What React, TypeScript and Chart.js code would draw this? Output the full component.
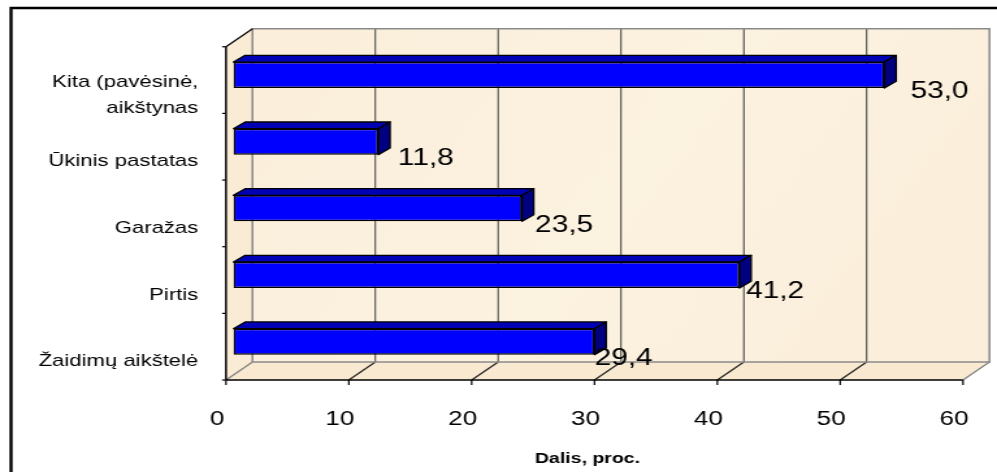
import React, { useEffect, useRef } from "react";
import { Chart, registerables } from "chart.js";

Chart.register(...registerables);

// ---- data ----
const categories: (string | string[])[] = [
  ["Kita (pavėsinė,", "aikštynas"],
  "Ūkinis pastatas",
  "Garažas",
  "Pirtis",
  "Žaidimų aikštelė",
];
const values = [53.0, 11.8, 23.5, 41.2, 29.4];
const valueLabels = ["53,0", "11,8", "23,5", "41,2", "29,4"];
const xTicks = [0, 10, 20, 30, 40, 50, 60];
const axisTitle = "Dalis, proc.";

// ---- layout / style ----
const VIEW_W = 997;
const VIEW_H = 472;
const STRETCH = 1.3;
const CW = Math.round(VIEW_W / STRETCH);
const SX = VIEW_W / CW;
const FONT = "'Liberation Sans', Arial, sans-serif";

const DX = 26.5 / SX; // full depth, horizontal
const DY = 18; // full depth, vertical
const D_BAR = 0.28; // bar plane depth fraction
const BAR_DX = 11.7 / SX;
const BAR_DY = 6.7;

const PLOT_LEFT = 233.4 / SX;
const PLOT_RIGHT = 970.4 / SX;
const PLOT_TOP = 41.7;
const PLOT_BOTTOM = 375;

const threeD = {
  id: "threeD",
  beforeDatasetsDraw(chart: any) {
    const { ctx, chartArea: ca, scales } = chart;
    const x = scales.x;
    const fx = (v: number) => x.getPixelForValue(v) - D_BAR * DX;
    const fTop = ca.top + D_BAR * DY;
    const fBot = ca.bottom + D_BAR * DY;
    const x0 = fx(xTicks[0]);
    const x1 = fx(xTicks[xTicks.length - 1]);
    const bx0 = x0 + DX;
    const bx1 = x1 + DX;
    const bTop = fTop - DY;
    const bBot = fBot - DY;

    ctx.save();
    // back wall
    const g = ctx.createLinearGradient(bx0, bTop, bx1, bBot);
    g.addColorStop(0, "#FBEFDB");
    g.addColorStop(0.5, "#FCF2E0");
    g.addColorStop(1, "#FBEEDA");
    ctx.fillStyle = g;
    ctx.fillRect(bx0, bTop, bx1 - bx0, bBot - bTop);
    // left wall
    ctx.fillStyle = "#FAEBD4";
    ctx.beginPath();
    ctx.moveTo(x0, fTop);
    ctx.lineTo(bx0, bTop);
    ctx.lineTo(bx0, bBot);
    ctx.lineTo(x0, fBot);
    ctx.closePath();
    ctx.fill();
    // floor
    ctx.fillStyle = "#F9E9D0";
    ctx.beginPath();
    ctx.moveTo(x0, fBot);
    ctx.lineTo(bx0, bBot);
    ctx.lineTo(bx1, bBot);
    ctx.lineTo(x1, fBot);
    ctx.closePath();
    ctx.fill();

    // back wall grid lines
    ctx.lineWidth = 1;
    ctx.strokeStyle = "#3a3a3a";
    for (let i = 1; i < xTicks.length - 1; i++) {
      const gx = fx(xTicks[i]) + DX;
      ctx.beginPath();
      ctx.moveTo(gx, bTop);
      ctx.lineTo(gx, bBot);
      ctx.stroke();
    }
    // floor diagonals
    for (let i = 0; i < xTicks.length; i++) {
      const px = fx(xTicks[i]);
      ctx.strokeStyle = i === 0 || i === xTicks.length - 1 ? "#808080" : "#222";
      ctx.lineWidth = 1.2;
      ctx.beginPath();
      ctx.moveTo(px, fBot);
      ctx.lineTo(px + DX, bBot);
      ctx.stroke();
    }
    // back wall edges (gray)
    ctx.strokeStyle = "#8a8a8a";
    ctx.lineWidth = 1.5;
    ctx.beginPath();
    ctx.moveTo(bx0, bBot);
    ctx.lineTo(bx0, bTop);
    ctx.lineTo(bx1, bTop);
    ctx.lineTo(bx1, bBot);
    ctx.lineTo(bx0, bBot);
    ctx.stroke();

    // front axis (bottom) + ticks
    ctx.strokeStyle = "#000";
    ctx.lineWidth = 1.5;
    ctx.beginPath();
    ctx.moveTo(x0, fBot);
    ctx.lineTo(x1, fBot);
    ctx.stroke();
    ctx.lineWidth = 1.2;
    for (let i = 0; i < xTicks.length; i++) {
      const px = fx(xTicks[i]);
      ctx.beginPath();
      ctx.moveTo(px, fBot);
      ctx.lineTo(px, fBot + 5);
      ctx.stroke();
    }
    // left axis + ticks + top diagonal
    ctx.lineWidth = 1.5;
    ctx.beginPath();
    ctx.moveTo(x0, fTop);
    ctx.lineTo(x0, fBot);
    ctx.stroke();
    ctx.lineWidth = 1.2;
    ctx.beginPath();
    ctx.moveTo(x0, fTop);
    ctx.lineTo(bx0, bTop);
    ctx.stroke();
    const n = categories.length;
    const step = (fBot - fTop) / n;
    for (let i = 0; i <= n; i++) {
      const py = fTop + i * step;
      ctx.beginPath();
      ctx.moveTo(x0 - 3, py);
      ctx.lineTo(x0, py);
      ctx.stroke();
    }
    ctx.restore();
  },
  afterDatasetsDraw(chart: any) {
    const { ctx } = chart;
    const meta = chart.getDatasetMeta(0);
    ctx.save();
    meta.data.forEach((bar: any, i: number) => {
      const p = bar.getProps(["x", "y", "base", "height"], true);
      const xe = p.x;
      const xb = p.base;
      const top = p.y - p.height / 2;
      const bot = p.y + p.height / 2;
      ctx.lineWidth = 1.3;
      ctx.strokeStyle = "#000";
      ctx.lineJoin = "round";
      // top face
      ctx.fillStyle = "#0000B4";
      ctx.beginPath();
      ctx.moveTo(xb, top);
      ctx.lineTo(xe, top);
      ctx.lineTo(xe + BAR_DX, top - BAR_DY);
      ctx.lineTo(xb + BAR_DX, top - BAR_DY);
      ctx.closePath();
      ctx.fill();
      ctx.stroke();
      // side face
      ctx.fillStyle = "#000080";
      ctx.beginPath();
      ctx.moveTo(xe, top);
      ctx.lineTo(xe + BAR_DX, top - BAR_DY);
      ctx.lineTo(xe + BAR_DX, bot - BAR_DY);
      ctx.lineTo(xe, bot);
      ctx.closePath();
      ctx.fill();
      ctx.stroke();
      // value label
      ctx.fillStyle = "#000";
      ctx.font = `23px ${FONT}`;
      ctx.textAlign = "left";
      ctx.textBaseline = "middle";
      ctx.fillText(valueLabels[i], xe + (26 - 6.5 * i) / SX, bot + 4);
    });
    ctx.restore();
  },
  afterDraw(chart: any) {
    const { ctx, scales } = chart;
    const x = scales.x;
    ctx.save();
    // axis title, centred under the front axis
    const mid =
      (x.getPixelForValue(xTicks[0]) + x.getPixelForValue(xTicks[xTicks.length - 1])) / 2 -
      D_BAR * DX -
      7 / SX;
    ctx.fillStyle = "#000";
    ctx.font = `bold 15px ${FONT}`;
    ctx.textAlign = "center";
    ctx.textBaseline = "middle";
    ctx.fillText(axisTitle, mid, 459);
    // outer frame
    ctx.strokeStyle = "#000";
    ctx.lineWidth = 2.4;
    ctx.beginPath();
    ctx.moveTo(11 / SX, VIEW_H + 10);
    ctx.lineTo(11 / SX, 8);
    ctx.lineTo(CW + 10, 8);
    ctx.stroke();
    ctx.restore();
  },
};

export default function App() {
  const ref = useRef<HTMLCanvasElement | null>(null);

  useEffect(() => {
    if (!ref.current) return;
    const chart = new Chart(ref.current, {
      type: "bar",
      data: {
        labels: categories as any,
        datasets: [
          {
            data: values,
            backgroundColor: "#0000FF",
            borderColor: "#000",
            borderWidth: 1.5,
            borderSkipped: false,
            barPercentage: 0.39,
            categoryPercentage: 1,
          },
        ],
      },
      options: {
        indexAxis: "y",
        animation: false,
        responsive: false,
        devicePixelRatio: 1,
        layout: {
          padding: { top: PLOT_TOP, right: CW - PLOT_RIGHT, left: 0, bottom: 0 },
        },
        plugins: {
          legend: { display: false },
          tooltip: { enabled: false },
        },
        scales: {
          x: {
            type: "linear",
            min: xTicks[0],
            max: xTicks[xTicks.length - 1],
            ticks: {
              stepSize: xTicks[1] - xTicks[0],
              color: "#000",
              font: { family: FONT, size: 20 },
              padding: 32,
              labelOffset: -12.6,
            },
            grid: { display: false, drawTicks: false },
            border: { display: false },
            title: { display: false },
            afterFit: (s: any) => {
              s.height = VIEW_H - PLOT_BOTTOM;
              s.paddingLeft = 0;
              s.paddingRight = 0;
            },
          },
          y: {
            type: "category",
            ticks: {
              color: "#000",
              font: { family: FONT, size: 17, lineHeight: 1.55 },
              padding: 27,
              labelOffset: 20,
            },
            grid: { display: false, drawTicks: false },
            border: { display: false },
            afterFit: (s: any) => {
              s.width = PLOT_LEFT;
              s.paddingTop = 0;
              s.paddingBottom = 0;
            },
          },
        },
      } as any,
      plugins: [threeD],
    });
    return () => chart.destroy();
  }, []);

  return (
    <div
      style={{
        position: "fixed",
        left: 0,
        top: 0,
        width: VIEW_W,
        height: VIEW_H,
        overflow: "hidden",
        background: "#fff",
      }}
    >
      <div
        style={{
          width: CW,
          height: VIEW_H,
          transform: `scaleX(${SX})`,
          transformOrigin: "0 0",
        }}
      >
        <canvas ref={ref} width={CW} height={VIEW_H} />
      </div>
    </div>
  );
}
